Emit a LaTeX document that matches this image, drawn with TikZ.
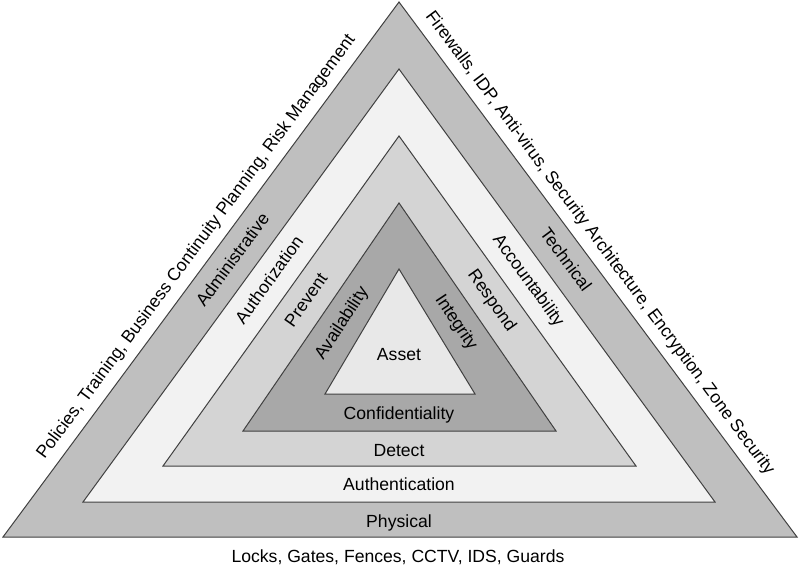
\documentclass[tikz,border=0pt]{standalone}
\usepackage{fontspec}
\setmainfont{Liberation Sans}
\usetikzlibrary{calc}

\definecolor{physgray}{gray}{0.75}
\definecolor{authgray}{gray}{0.95}
\definecolor{detgray}{gray}{0.83}
\definecolor{confgray}{gray}{0.66}
\definecolor{assetgray}{gray}{0.91}
\definecolor{edgegray}{gray}{0.25}

\begin{document}
\begin{tikzpicture}[
    x=0.75pt, y=-0.75pt,
    font=\fontsize{13.2}{15}\selectfont,
    layer/.style={draw=edgegray, line width=0.75pt, line join=miter},
    lbl/.style={anchor=base, inner sep=0pt},
    side/.style={sloped, inner sep=1pt, text height=0.72em, text depth=0pt},
    outer/.style={sloped, above=6pt, inner sep=1pt, text height=0.72em, text depth=0.21em}
]
\useasboundingbox (0,0) rectangle (800,570);

% corners of the five triangles
\coordinate (l1) at (3,537);   \coordinate (r1) at (797,537); \coordinate (t1) at (399,2);
\coordinate (l2) at (83,502);  \coordinate (r2) at (715,502); \coordinate (t2) at (399,69);
\coordinate (l3) at (163,466); \coordinate (r3) at (636,466); \coordinate (t3) at (399,136);
\coordinate (l4) at (243,431); \coordinate (r4) at (556,431); \coordinate (t4) at (399,203);
\coordinate (l5) at (325,394); \coordinate (r5) at (475,394); \coordinate (t5) at (399,269);

\draw[layer, fill=physgray]  (l1) -- (r1) -- (t1) -- cycle;
\draw[layer, fill=authgray]  (l2) -- (r2) -- (t2) -- cycle;
\draw[layer, fill=detgray]   (l3) -- (r3) -- (t3) -- cycle;
\draw[layer, fill=confgray]  (l4) -- (r4) -- (t4) -- cycle;
\draw[layer, fill=assetgray] (l5) -- (r5) -- (t5) -- cycle;

% bottom labels
\node[lbl] (asset)    at (399,360) {Asset};
\node[lbl] (confid)   at (399,419) {Confidentiality};
\node[lbl] (detect)   at (399,456) {Detect};
\node[lbl] (authen)   at (399,490) {Authentication};
\node[lbl] (physical) at (399,527) {Physical};
\node[lbl] (locks)    at (398,562) {Locks, Gates, Fences, CCTV, IDS, Guards};

% labels along the sides of each band
\path ($(l1)!.5!(l2)$) -- ($(t1)!.5!(t2)$) node[side, pos=.535] (admin) {Administrative};
\path ($(t1)!.5!(t2)$) -- ($(r1)!.5!(r2)$) node[side, pos=.465] (technical) {Technical};
\path ($(l2)!.5!(l3)$) -- ($(t2)!.5!(t3)$) node[side, pos=.533] (authz) {Authorization};
\path ($(t2)!.5!(t3)$) -- ($(r2)!.5!(r3)$) node[side, pos=.467] (account) {Accountability};
\path ($(l3)!.5!(l4)$) -- ($(t3)!.5!(t4)$) node[side, pos=.53] (prevent) {Prevent};
\path ($(t3)!.5!(t4)$) -- ($(r3)!.5!(r4)$) node[side, pos=.47] (respond) {Respond};
\path ($(l4)!.5!(l5)$) -- ($(t4)!.5!(t5)$) node[side, pos=.505] (avail) {Availability};
\path ($(t4)!.5!(t5)$) -- ($(r4)!.5!(r5)$) node[side, pos=.49] (integ) {Integrity};

% outside the triangle
\path (l1) -- (t1) node[outer, pos=.523] (policies) {Policies, Training, Business Continuity Planning, Risk Management};
\path (t1) -- (r1) node[outer, pos=.47] (firewalls) {Firewalls, IDP, Anti-virus, Security Architecture, Encryption, Zone Security};
\end{tikzpicture}
\end{document}
